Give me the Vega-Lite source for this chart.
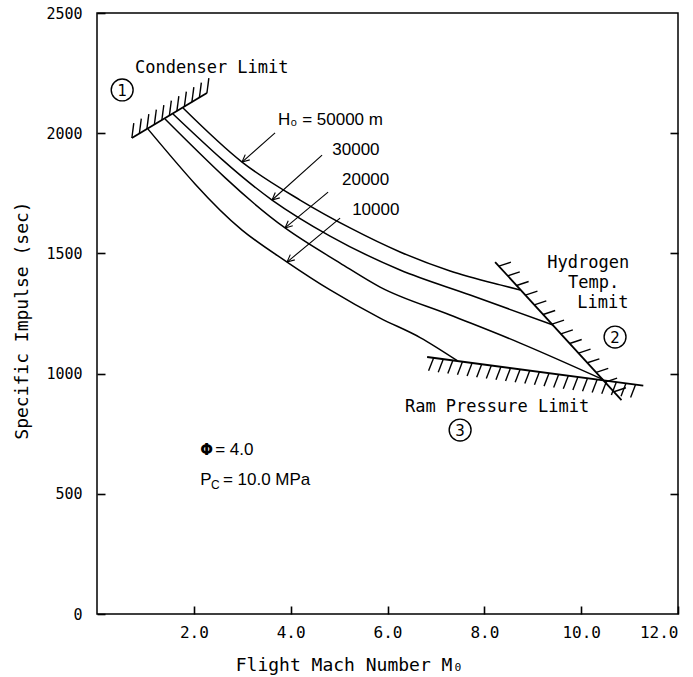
{
  "$schema": "https://vega.github.io/schema/vega-lite/v6.json",
  "width": 581,
  "height": 601,
  "autosize": "none",
  "padding": {"left": 97, "top": 13, "right": 15, "bottom": 63},
  "background": "white",
  "view": {"stroke": "black", "strokeWidth": 1.5},
  "config": {
    "axis": {"grid": false, "labelColor": "black", "titleColor": "black"}
  },
  "datasets": {
    "curves": [
      {"H": "50000", "M": 1.777, "Isp": 2105},
      {"H": "50000", "M": 2.996, "Isp": 1880},
      {"H": "50000", "M": 4.194, "Isp": 1722},
      {"H": "50000", "M": 5.227, "Isp": 1606},
      {"H": "50000", "M": 6.260, "Isp": 1506},
      {"H": "50000", "M": 7.293, "Isp": 1427},
      {"H": "50000", "M": 8.326, "Isp": 1369},
      {"H": "50000", "M": 8.740, "Isp": 1348},
      {"H": "30000", "M": 1.570, "Isp": 2080},
      {"H": "30000", "M": 3.616, "Isp": 1722},
      {"H": "30000", "M": 4.814, "Isp": 1572},
      {"H": "30000", "M": 6.260, "Isp": 1431},
      {"H": "30000", "M": 7.707, "Isp": 1327},
      {"H": "30000", "M": 9.421, "Isp": 1202},
      {"H": "20000", "M": 1.405, "Isp": 2059},
      {"H": "20000", "M": 3.884, "Isp": 1606},
      {"H": "20000", "M": 5.021, "Isp": 1460},
      {"H": "20000", "M": 5.847, "Isp": 1360},
      {"H": "20000", "M": 7.293, "Isp": 1244},
      {"H": "20000", "M": 8.740, "Isp": 1127},
      {"H": "20000", "M": 10.455, "Isp": 975},
      {"H": "10000", "M": 1.054, "Isp": 2017},
      {"H": "10000", "M": 2.996, "Isp": 1597},
      {"H": "10000", "M": 3.926, "Isp": 1464},
      {"H": "10000", "M": 4.814, "Isp": 1348},
      {"H": "10000", "M": 5.847, "Isp": 1231},
      {"H": "10000", "M": 6.674, "Isp": 1150},
      {"H": "10000", "M": 7.440, "Isp": 1054}
    ],
    "limits": [
      {"name": "condenser", "M": 0.72, "Isp": 1980},
      {"name": "condenser", "M": 2.27, "Isp": 2167},
      {"name": "hydrogen", "M": 8.223, "Isp": 1464},
      {"name": "hydrogen", "M": 10.833, "Isp": 890},
      {"name": "ram", "M": 6.818, "Isp": 1069},
      {"name": "ram", "M": 11.283, "Isp": 950}
    ],
    "hatches": [
      {"x": 0.72, "y": 1980, "x2": 0.76, "y2": 2042},
      {"x": 0.875, "y": 1998.7, "x2": 0.915, "y2": 2060.7},
      {"x": 1.03, "y": 2017.4, "x2": 1.07, "y2": 2079.4},
      {"x": 1.185, "y": 2036.1, "x2": 1.225, "y2": 2098.1},
      {"x": 1.34, "y": 2054.8, "x2": 1.38, "y2": 2116.8},
      {"x": 1.495, "y": 2073.5, "x2": 1.535, "y2": 2135.5},
      {"x": 1.65, "y": 2092.2, "x2": 1.69, "y2": 2154.2},
      {"x": 1.805, "y": 2110.9, "x2": 1.845, "y2": 2172.9},
      {"x": 1.96, "y": 2129.6, "x2": 2.0, "y2": 2191.6},
      {"x": 2.115, "y": 2148.3, "x2": 2.155, "y2": 2210.3},
      {"x": 2.27, "y": 2167, "x2": 2.31, "y2": 2229},
      {"x": 8.301, "y": 1446.8, "x2": 8.549, "y2": 1463.4},
      {"x": 8.484, "y": 1406.6, "x2": 8.732, "y2": 1423.2},
      {"x": 8.667, "y": 1366.4, "x2": 8.915, "y2": 1383.0},
      {"x": 8.849, "y": 1326.2, "x2": 9.097, "y2": 1342.8},
      {"x": 9.032, "y": 1286.1, "x2": 9.280, "y2": 1302.7},
      {"x": 9.215, "y": 1245.9, "x2": 9.463, "y2": 1262.5},
      {"x": 9.398, "y": 1205.7, "x2": 9.646, "y2": 1222.3},
      {"x": 9.580, "y": 1165.5, "x2": 9.828, "y2": 1182.1},
      {"x": 9.763, "y": 1125.3, "x2": 10.011, "y2": 1141.9},
      {"x": 9.946, "y": 1085.2, "x2": 10.194, "y2": 1101.8},
      {"x": 10.128, "y": 1045.0, "x2": 10.376, "y2": 1061.6},
      {"x": 10.311, "y": 1004.8, "x2": 10.559, "y2": 1021.4},
      {"x": 10.494, "y": 964.6, "x2": 10.742, "y2": 981.2},
      {"x": 10.676, "y": 924.4, "x2": 10.924, "y2": 941.0},
      {"x": 6.952, "y": 1065.4, "x2": 6.849, "y2": 1011.4},
      {"x": 7.151, "y": 1060.1, "x2": 7.048, "y2": 1006.1},
      {"x": 7.349, "y": 1054.8, "x2": 7.246, "y2": 1000.8},
      {"x": 7.548, "y": 1049.5, "x2": 7.445, "y2": 995.5},
      {"x": 7.747, "y": 1044.2, "x2": 7.644, "y2": 990.2},
      {"x": 7.945, "y": 1039.0, "x2": 7.842, "y2": 985.0},
      {"x": 8.144, "y": 1033.7, "x2": 8.041, "y2": 979.7},
      {"x": 8.343, "y": 1028.4, "x2": 8.240, "y2": 974.4},
      {"x": 8.541, "y": 1023.1, "x2": 8.438, "y2": 969.1},
      {"x": 8.740, "y": 1017.8, "x2": 8.637, "y2": 963.8},
      {"x": 8.939, "y": 1012.5, "x2": 8.836, "y2": 958.5},
      {"x": 9.138, "y": 1007.2, "x2": 9.035, "y2": 953.2},
      {"x": 9.336, "y": 1001.9, "x2": 9.233, "y2": 947.9},
      {"x": 9.535, "y": 996.6, "x2": 9.432, "y2": 942.6},
      {"x": 9.734, "y": 991.3, "x2": 9.631, "y2": 937.3},
      {"x": 9.932, "y": 986.0, "x2": 9.829, "y2": 932.0},
      {"x": 10.131, "y": 980.7, "x2": 10.028, "y2": 926.7},
      {"x": 10.330, "y": 975.4, "x2": 10.227, "y2": 921.4},
      {"x": 10.528, "y": 970.1, "x2": 10.425, "y2": 916.1},
      {"x": 10.727, "y": 964.8, "x2": 10.624, "y2": 910.8},
      {"x": 10.926, "y": 959.5, "x2": 10.823, "y2": 905.5},
      {"x": 11.124, "y": 954.2, "x2": 11.021, "y2": 900.2}
    ],
    "arrows": [
      {"x": 3.678, "y": 2001, "x2": 2.996, "y2": 1880},
      {"x": 2.996, "y": 1880, "x2": 3.155, "y2": 1889},
      {"x": 2.996, "y": 1880, "x2": 3.062, "y2": 1911},
      {"x": 4.649, "y": 1909, "x2": 3.616, "y2": 1722},
      {"x": 3.616, "y": 1722, "x2": 3.775, "y2": 1731},
      {"x": 3.616, "y": 1722, "x2": 3.682, "y2": 1753},
      {"x": 4.773, "y": 1755, "x2": 3.884, "y2": 1606},
      {"x": 3.884, "y": 1606, "x2": 4.043, "y2": 1615},
      {"x": 3.884, "y": 1606, "x2": 3.950, "y2": 1636},
      {"x": 5.021, "y": 1647, "x2": 3.926, "y2": 1464},
      {"x": 3.926, "y": 1464, "x2": 4.085, "y2": 1473},
      {"x": 3.926, "y": 1464, "x2": 3.992, "y2": 1495}
    ],
    "circles": [
      {"M": 0.52, "Isp": 2180, "label": "1"},
      {"M": 10.70, "Isp": 1152, "label": "2"},
      {"M": 7.50, "Isp": 765, "label": "3"}
    ],
    "monoText": [
      {"M": 0.785, "Isp": 2271, "label": "Condenser Limit"},
      {"M": 9.30, "Isp": 1460, "label": "Hydrogen"},
      {"M": 9.73, "Isp": 1377, "label": "Temp."},
      {"M": 9.92, "Isp": 1294, "label": "Limit"},
      {"M": 6.36, "Isp": 861, "label": "Ram Pressure Limit"}
    ],
    "sansText": [
      {"M": 3.74, "Isp": 2055, "label": "H₀ = 50000 m"},
      {"M": 4.86, "Isp": 1930, "label": "30000"},
      {"M": 5.06, "Isp": 1805, "label": "20000"},
      {"M": 5.27, "Isp": 1680, "label": "10000"},
      {"M": 2.44, "Isp": 682, "label": "= 4.0"},
      {"M": 2.13, "Isp": 557, "label": "P"},
      {"M": 2.60, "Isp": 557, "label": "= 10.0 MPa"}
    ],
    "subText": [
      {"M": 2.355, "Isp": 537, "label": "C"}
    ],
    "phiText": [
      {"M": 2.13, "Isp": 682, "label": "Φ"}
    ]
  },
  "layer": [
    {
      "data": {"name": "curves"},
      "mark": {"type": "line", "color": "black", "strokeWidth": 1.5, "interpolate": "monotone"},
      "encoding": {
        "x": {"field": "M", "type": "quantitative", "scale": {"domain": [0, 12], "nice": false, "zero": false},
          "axis": {"orient": "bottom", "values": [2, 4, 6, 8, 10, 12], "domain": false, "offset": -8, "tickSize": 8, "tickColor": "black", "tickWidth": 1.6, "labelPadding": 10, "labelFont": "DejaVu Sans Mono", "labelFontSize": 16, "labelExpr": "format(datum.value, '.1f')", "title": "Flight Mach Number  M₀", "titleFont": "DejaVu Sans Mono", "titleFontSize": 18, "titleFontWeight": "normal", "titleX": 252, "titleY": 64, "titleBaseline": "alphabetic"}},
        "y": {"field": "Isp", "type": "quantitative", "scale": {"domain": [0, 2500], "nice": false, "zero": false},
          "axis": {"orient": "left", "values": [0, 500, 1000, 1500, 2000, 2500], "domain": false, "offset": -8, "tickSize": 8, "tickColor": "black", "tickWidth": 1.6, "labelPadding": 15, "labelFont": "DejaVu Sans Mono", "labelFontSize": 15, "format": "d", "title": "Specific Impulse  (sec)", "titleFont": "DejaVu Sans Mono", "titleFontSize": 18, "titleFontWeight": "normal", "titleX": -83, "titleY": 307, "titleAngle": -90, "titleBaseline": "middle", "titleAlign": "center"}},
        "detail": {"field": "H"}
      }
    },
    {
      "data": {"name": "curves"},
      "mark": {"type": "line", "opacity": 0},
      "encoding": {
        "x": {"field": "M", "type": "quantitative"},
        "y": {"field": "Isp", "type": "quantitative",
          "axis": {"orient": "right", "values": [500, 1000, 1500, 2000], "domain": false, "offset": -8, "tickSize": 8, "tickColor": "black", "tickWidth": 1.6, "labels": false, "title": null}},
        "detail": {"field": "H"}
      }
    },
    {
      "data": {"name": "limits"},
      "mark": {"type": "line", "color": "black", "strokeWidth": 1.8},
      "encoding": {
        "x": {"field": "M", "type": "quantitative"},
        "y": {"field": "Isp", "type": "quantitative", "axis": null},
        "detail": {"field": "name"}
      }
    },
    {
      "data": {"name": "hatches"},
      "mark": {"type": "rule", "color": "black", "strokeWidth": 1.4},
      "encoding": {
        "x": {"field": "x", "type": "quantitative"},
        "y": {"field": "y", "type": "quantitative", "axis": null},
        "x2": {"field": "x2"},
        "y2": {"field": "y2"}
      }
    },
    {
      "data": {"name": "arrows"},
      "mark": {"type": "rule", "color": "black", "strokeWidth": 1.1},
      "encoding": {
        "x": {"field": "x", "type": "quantitative"},
        "y": {"field": "y", "type": "quantitative", "axis": null},
        "x2": {"field": "x2"},
        "y2": {"field": "y2"}
      }
    },
    {
      "data": {"name": "circles"},
      "mark": {"type": "point", "shape": "circle", "filled": false, "color": "black", "strokeWidth": 1.4, "size": 480, "opacity": 1},
      "encoding": {
        "x": {"field": "M", "type": "quantitative"},
        "y": {"field": "Isp", "type": "quantitative", "axis": null}
      }
    },
    {
      "data": {"name": "circles"},
      "mark": {"type": "text", "font": "DejaVu Sans", "fontSize": 15, "align": "center", "baseline": "middle", "color": "black", "dy": 1},
      "encoding": {
        "x": {"field": "M", "type": "quantitative"},
        "y": {"field": "Isp", "type": "quantitative", "axis": null},
        "text": {"field": "label"}
      }
    },
    {
      "data": {"name": "monoText"},
      "mark": {"type": "text", "font": "DejaVu Sans Mono", "fontSize": 17, "align": "left", "baseline": "middle", "color": "black"},
      "encoding": {
        "x": {"field": "M", "type": "quantitative"},
        "y": {"field": "Isp", "type": "quantitative", "axis": null},
        "text": {"field": "label"}
      }
    },
    {
      "data": {"name": "sansText"},
      "mark": {"type": "text", "font": "Liberation Sans", "fontSize": 17, "align": "left", "baseline": "middle", "color": "black"},
      "encoding": {
        "x": {"field": "M", "type": "quantitative"},
        "y": {"field": "Isp", "type": "quantitative", "axis": null},
        "text": {"field": "label"}
      }
    },
    {
      "data": {"name": "subText"},
      "mark": {"type": "text", "font": "Liberation Sans", "fontSize": 12, "align": "left", "baseline": "middle", "color": "black"},
      "encoding": {
        "x": {"field": "M", "type": "quantitative"},
        "y": {"field": "Isp", "type": "quantitative", "axis": null},
        "text": {"field": "label"}
      }
    },
    {
      "data": {"name": "phiText"},
      "mark": {"type": "text", "font": "DejaVu Sans", "fontWeight": "bold", "fontSize": 15, "align": "left", "baseline": "middle", "color": "black"},
      "encoding": {
        "x": {"field": "M", "type": "quantitative"},
        "y": {"field": "Isp", "type": "quantitative", "axis": null},
        "text": {"field": "label"}
      }
    }
  ],
  "resolve": {"axis": {"y": "independent"}}
}
